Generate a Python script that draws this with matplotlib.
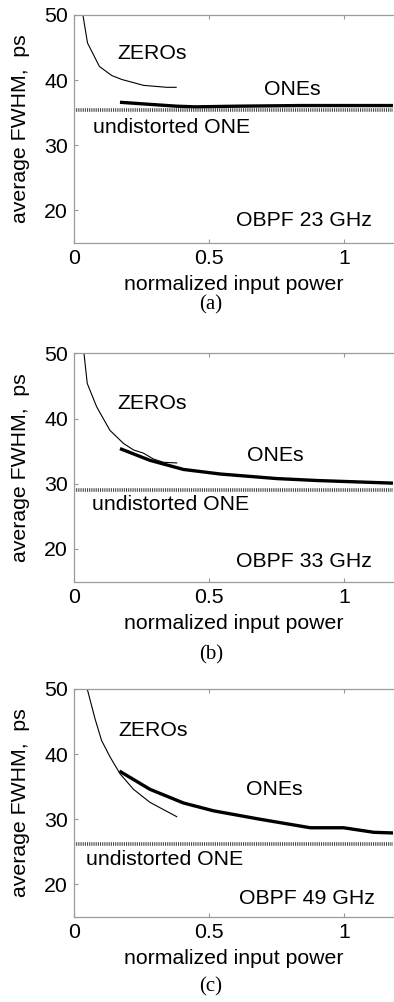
import matplotlib
matplotlib.use("Agg")
import matplotlib.pyplot as plt

plt.rcParams['font.family'] = ['Liberation Sans', 'DejaVu Sans']

# filter bandwidths and undistorted ONE widths
filters = ["OBPF 23 GHz", "OBPF 33 GHz", "OBPF 49 GHz"]
captions = ["(a)", "(b)", "(c)"]
undistorted = [35.35, 29.0, 26.2]

# average FWHM of ZEROs (thin) vs normalized input power
zeros_x_a = [0.033, 0.05, 0.094, 0.14, 0.177, 0.257, 0.343, 0.378]
zeros_y_a = [50.0, 45.7, 42.1, 40.7, 40.1, 39.2, 38.9, 38.9]
zeros_x_b = [0.037, 0.049, 0.084, 0.133, 0.183, 0.22, 0.257, 0.294, 0.331, 0.38]
zeros_y_b = [50.0, 45.4, 41.8, 38.2, 36.2, 35.2, 34.7, 33.8, 33.3, 33.2]
zeros_x_c = [0.049, 0.078, 0.102, 0.133, 0.17, 0.22, 0.281, 0.38]
zeros_y_c = [50.0, 45.4, 42.1, 39.6, 37.0, 34.6, 32.6, 30.4]

# average FWHM of ONEs (thick)
ones_x_a = [0.17, 0.38, 0.45, 0.6, 0.837, 1.18]
ones_y_a = [36.6, 36.0, 35.9, 36.0, 36.1, 36.1]
ones_x_b = [0.17, 0.281, 0.405, 0.541, 0.75, 0.9, 1.18]
ones_y_b = [35.4, 33.6, 32.2, 31.5, 30.8, 30.5, 30.1]
ones_x_c = [0.168, 0.281, 0.405, 0.516, 0.689, 0.874, 0.997, 1.109, 1.18]
ones_y_c = [37.4, 34.6, 32.5, 31.3, 30.0, 28.7, 28.7, 28.0, 27.9]

zeros = [(zeros_x_a, zeros_y_a), (zeros_x_b, zeros_y_b), (zeros_x_c, zeros_y_c)]
ones = [(ones_x_a, ones_y_a), (ones_x_b, ones_y_b), (ones_x_c, ones_y_c)]

# label anchors (data coords): ZEROs, ONEs, undistorted ONE, filter
zeros_lbl = [(0.288, 44.15), (0.29, 42.3), (0.294, 43.6)]
ones_lbl = [(0.806, 38.55), (0.744, 34.3), (0.74, 34.6)]
undist_lbl = [(0.072, 32.7), (0.065, 26.8), (0.044, 23.8)]
filter_lbl = [(0.6, 18.45), (0.6, 18.05), (0.609, 17.8)]

W, H = 394, 1002
fig = plt.figure(figsize=(W / 100, H / 100), dpi=100)

tops = [15, 353.5, 689]
xlab_off = 42
cap_y = [305, 655, 987]
ax_h = 228
ax_left, ax_w = 74, 319
fs = 15.3
grey = '#9a9a9a'

for i in range(3):
    ax = fig.add_axes([ax_left / W, 1 - (tops[i] + ax_h) / H, ax_w / W, ax_h / H])
    ax.plot(*zeros[i], color='black', lw=0.8)
    ax.plot(*ones[i], color='black', lw=2.4, solid_capstyle='butt')
    ax.axhline(undistorted[i], color='#444444', lw=2.6, dashes=(0.3, 0.3))

    ax.set_xlim(0, 1.18)
    ax.set_ylim(15, 50)
    ax.set_xticks([0, 0.5, 1])
    ax.set_xticklabels(["0", "0.5", "1"])
    ax.set_yticks([20, 30, 40, 50])
    ax.tick_params(direction='in', length=3, width=0.8, color=grey,
                   labelsize=fs, top=True)
    ax.tick_params(axis='y', pad=4.3)
    ax.tick_params(axis='x', pad=4.5)
    for side in ['left', 'bottom', 'top']:
        ax.spines[side].set_color(grey)
        ax.spines[side].set_linewidth(0.9)
    ax.spines['right'].set_visible(False)

    ax.set_xlabel("normalized input power", fontsize=fs)
    ax.xaxis.set_label_coords(0.5, -xlab_off / ax_h)
    ax.xaxis.label.set_va('center')
    ax.set_ylabel("average FWHM,  ps", fontsize=fs)
    ax.yaxis.set_label_coords(-53.5 / ax_w, 0.5)
    ax.yaxis.label.set_va('center')

    ax.text(*zeros_lbl[i], "ZEROs", fontsize=fs, ha='center', va='center')
    ax.text(*ones_lbl[i], "ONEs", fontsize=fs, ha='center', va='center')
    ax.text(*undist_lbl[i], "undistorted ONE", fontsize=fs, ha='left', va='center')
    ax.text(*filter_lbl[i], filters[i], fontsize=fs, ha='left', va='center')

    fig.text(211 / W, 1 - cap_y[i] / H, captions[i], fontsize=15,
             family=['Liberation Serif', 'DejaVu Serif'], ha='center', va='center')

fig.savefig("out.png", dpi=100)
